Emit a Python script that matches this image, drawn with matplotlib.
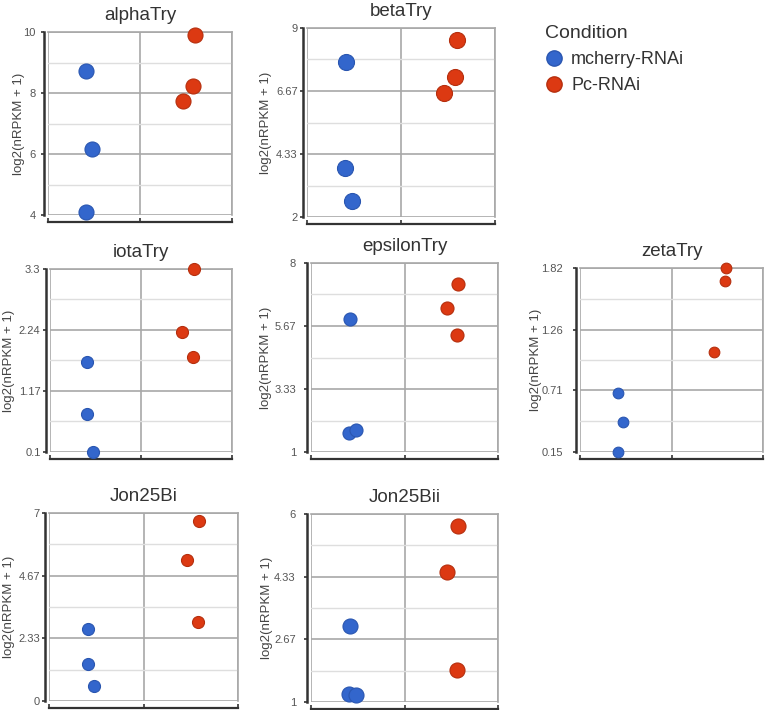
import matplotlib.pyplot as plt
from matplotlib.lines import Line2D

plt.rcParams['font.family'] = ['Liberation Sans', 'DejaVu Sans']

W, H = 766, 710

conditions = ['mcherry-RNAi', 'Pc-RNAi']
colors = ['#3366cc', '#dc3912']
edges = ['#2a56b0', '#b52f0e']

# log2(nRPKM + 1), three replicates per condition
alpha_mcherry = [8.73, 6.15, 4.09]
alpha_pc = [9.90, 8.24, 7.74]
alpha_ticks = [4, 6, 8, 10]

beta_mcherry = [7.74, 3.82, 2.58]
beta_pc = [8.55, 7.17, 6.61]
beta_ticks = [2, 4.33, 6.67, 9]

iota_mcherry = [1.68, 0.765, 0.10]
iota_pc = [3.30, 2.19, 1.756]
iota_ticks = [0.1, 1.17, 2.24, 3.3]

epsilon_mcherry = [5.92, 1.71, 1.81]
epsilon_pc = [7.22, 6.34, 5.35]
epsilon_ticks = [1, 3.33, 5.67, 8]

zeta_mcherry = [0.687, 0.42, 0.15]
zeta_pc = [1.82, 1.705, 1.061]
zeta_ticks = [0.15, 0.71, 1.26, 1.82]

jon25bi_mcherry = [2.69, 1.38, 0.55]
jon25bi_pc = [6.69, 5.26, 2.93]
jon25bi_ticks = [0, 2.33, 4.67, 7]

jon25bii_mcherry = [3.01, 1.21, 1.18]
jon25bii_pc = [5.67, 4.47, 1.86]
jon25bii_ticks = [1, 2.67, 4.33, 6]

# horizontal jitter of each point around its category
alpha_jit = ([-0.083, -0.018, -0.091], [0.094, 0.076, -0.033])
beta_jit = ([-0.088, -0.095, -0.024], [0.091, 0.077, -0.040])
iota_jit = ([-0.090, -0.094, -0.028], [0.083, -0.045, 0.072])
epsilon_jit = ([-0.080, -0.094, -0.024], [0.073, -0.045, 0.059])
zeta_jit = ([-0.081, -0.026, -0.088], [0.092, 0.081, -0.032])
jon25bi_jit = ([-0.087, -0.091, -0.024], [0.084, -0.040, 0.073])
jon25bii_jit = ([-0.080, -0.094, -0.017], [0.073, -0.045, 0.059])

panels = [
    ('alphaTry', alpha_mcherry, alpha_pc, alpha_ticks, alpha_jit),
    ('betaTry', beta_mcherry, beta_pc, beta_ticks, beta_jit),
    ('iotaTry', iota_mcherry, iota_pc, iota_ticks, iota_jit),
    ('epsilonTry', epsilon_mcherry, epsilon_pc, epsilon_ticks, epsilon_jit),
    ('zetaTry', zeta_mcherry, zeta_pc, zeta_ticks, zeta_jit),
    ('Jon25Bi', jon25bi_mcherry, jon25bi_pc, jon25bi_ticks, jon25bi_jit),
    ('Jon25Bii', jon25bii_mcherry, jon25bii_pc, jon25bii_ticks, jon25bii_jit),
]

# pixel boxes (left, right, top, bottom), y-label right edge, tick pad, marker sizes
boxes = [(48, 232, 32, 215), (307, 495, 28, 217),
         (50, 232, 269, 452), (311, 498, 263, 452), (580, 763, 268, 452),
         (49, 238, 513, 701), (311, 498, 514, 702)]
label_x = [25, 272, 14.5, 272, 542, 15, 273]
tick_pads = [3.8, 1.6, 1.8, 5.9, 7.4, 1.6, 5.9]
msizes = [117, 133, 75, 88, 59, 75, 117]

fig = plt.figure(figsize=(W / 100, H / 100), dpi=100)

for (name, blue, red, ticks, jit), (l, r, t, b), lx, tp, ms in zip(
        panels, boxes, label_x, tick_pads, msizes):
    ax = fig.add_axes([l / W, 1 - b / H, (r - l) / W, (b - t) / H])
    for i, vals in enumerate([blue, red]):
        xs = [i + j for j in jit[i]]
        ax.scatter(xs, vals, s=ms, color=colors[i], edgecolors=edges[i],
                   linewidths=0.8, zorder=3, clip_on=False)
    ax.set_xlim(-0.5, 1.5)
    ax.set_ylim(ticks[0], ticks[-1])
    ax.set_xticks([-0.5, 0.5, 1.5])
    ax.set_xticklabels([])
    ax.set_yticks(ticks)
    ax.set_yticklabels(['%g' % v for v in ticks])
    mids = [(ticks[k] + ticks[k + 1]) / 2 for k in range(len(ticks) - 1)]
    ax.set_yticks(mids, minor=True)
    ax.grid(which='major', color='#a8a8a8', linewidth=1.2, zorder=0)
    ax.grid(which='minor', axis='y', color='#dedede', linewidth=1.0, zorder=0)
    for line in ax.get_xgridlines() + ax.get_ygridlines():
        line.set_clip_on(False)
    ax.set_axisbelow(True)
    for s in ['top', 'right']:
        ax.spines[s].set_color('#a8a8a8')
        ax.spines[s].set_linewidth(1.2)
    ax.spines['left'].set_position(('outward', 3))
    ax.spines['left'].set_color('#333333')
    ax.spines['left'].set_linewidth(1.8)
    ax.spines['bottom'].set_position(('outward', 5))
    ax.spines['bottom'].set_color('#333333')
    ax.spines['bottom'].set_linewidth(1.6)
    ax.tick_params(axis='y', which='major', length=2, width=1.2, color='#333333',
                   labelsize=8, labelcolor='#555555', pad=tp)
    ax.tick_params(axis='y', which='minor', length=0)
    ax.tick_params(axis='x', which='both', direction='in', length=3, width=1.2,
                   color='#333333')
    ax.set_title(name, fontsize=13.5, color='#333333', pad=9)
    ax.set_ylabel('log2(nRPKM + 1)', fontsize=9.5, color='#444444')
    ax.yaxis.set_label_coords((lx - l) / (r - l), 0.5)

handles = [Line2D([], [], marker='o', ls='', color=c, markeredgecolor=e, markersize=11)
           for c, e in zip(colors, edges)]
leg = fig.legend(handles, conditions, title='Condition', loc='upper left',
                 bbox_to_anchor=(545 / W, 1 - 25 / H), frameon=False, fontsize=13,
                 title_fontsize=14, alignment='left', handletextpad=0.45,
                 labelspacing=0.5, handlelength=1, borderpad=0, borderaxespad=0)
for txt in leg.get_texts():
    txt.set_color('#333333')
leg.get_title().set_color('#333333')

fig.savefig('out.png', dpi=100)
